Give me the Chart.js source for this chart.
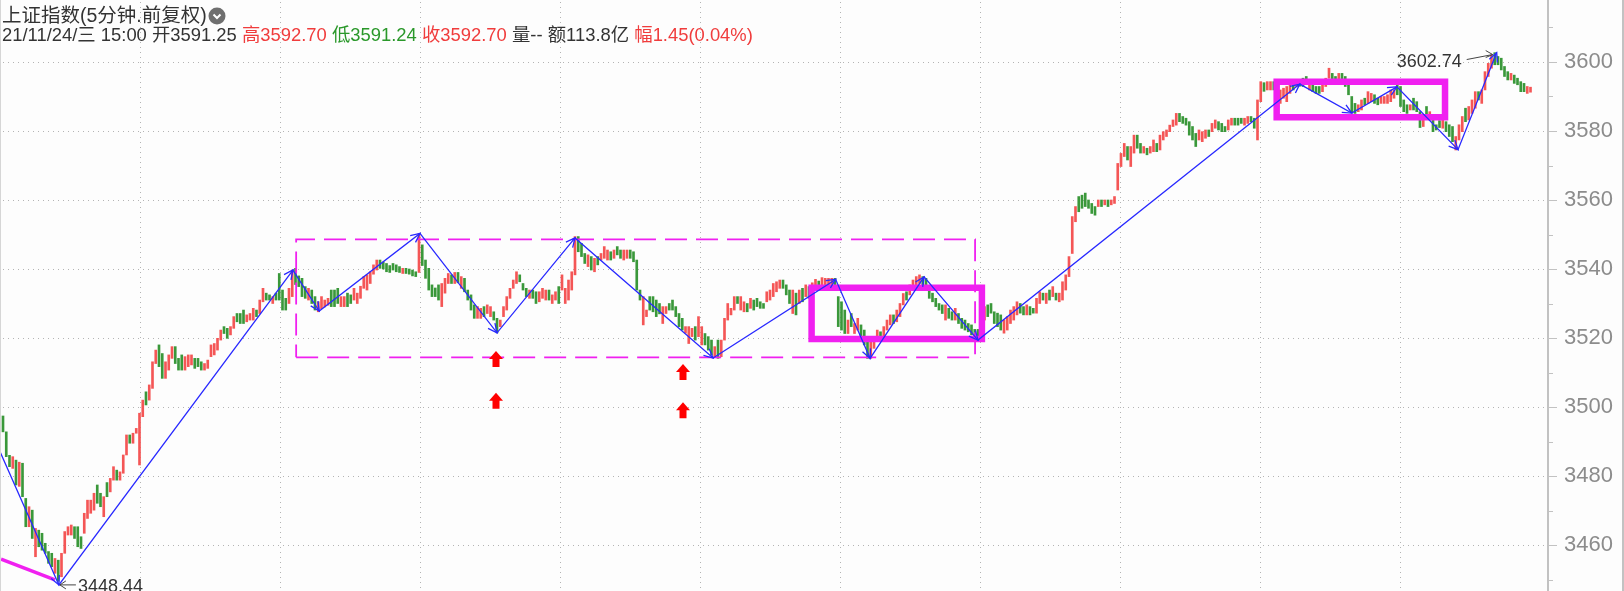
<!DOCTYPE html>
<html>
<head>
<meta charset="utf-8">
<script src="https://cdn.jsdelivr.net/npm/chart.js@4.4.0/dist/chart.umd.min.js"></script>
<style>
  html, body { margin: 0; padding: 0; background: #fdfdfd; }
  #wrap { position: relative; width: 1624px; height: 591px; overflow: hidden; }
  #kChart { position: absolute; left: 0; top: 0; }
  #head { position: absolute; left: 2px; top: 6px; z-index: 2; color: #333;
          font-family: "Liberation Sans", "Noto Sans CJK SC", sans-serif; white-space: nowrap; }
  #head .l1 { font-size: 19.5px; line-height: 19px; }
  #head .l2 { font-size: 18.4px; line-height: 19px; }
  #head svg { vertical-align: -3px; margin-left: 1px; }
  .up { color: #f03c3c; }
  .dn { color: #2a982a; }
</style>
</head>
<body>
<div id="wrap">
  <canvas id="kChart" width="1624" height="591"></canvas>
  <div id="head">
    <div class="l1">上证指数(5分钟.前复权)<svg width="18" height="18" viewBox="0 0 18 18"><circle cx="9" cy="9" r="8.5" fill="#6f6f6f"/><path d="M5.5 7.5 L9 11 L12.5 7.5" stroke="#fff" stroke-width="2" fill="none"/></svg></div>
    <div class="l2">21/11/24/三 15:00 开3591.25 <span class="up">高3592.70</span> <span class="dn">低3591.24</span> <span class="up">收3592.70</span> 量-- 额113.8亿 <span class="up">幅1.45(0.04%)</span></div>
  </div>
</div>
<script>
// 5 minute bars, one row = 10 bars
const opens = [
  3497.4, 3492.8, 3486.0, 3482.2, 3484.6, 3477.0, 3483.7, 3473.5, 3465.3, 3470.1,
  3456.6, 3464.3, 3463.4, 3460.5, 3458.1, 3457.6, 3451.8, 3455.6, 3450.8, 3457.6,
  3462.9, 3462.9, 3465.3, 3465.3, 3462.4, 3463.4, 3467.7, 3469.2, 3470.1, 3477.4,
  3475.0, 3468.2, 3478.1, 3475.4, 3478.8, 3481.7, 3478.8, 3480.8, 3486.1, 3491.9,
  3489.5, 3492.4, 3483.2, 3497.2, 3504.4, 3502.0, 3505.4, 3512.6, 3518.0, 3515.5,
  3508.3, 3510.7, 3514.1, 3517.5, 3514.1, 3515.1, 3510.7, 3511.7, 3512.2, 3514.1,
  3514.1, 3513.1, 3510.7, 3511.2, 3514.6, 3515.1, 3516.5, 3519.4, 3523.3, 3522.8,
  3520.9, 3522.8, 3527.1, 3527.1, 3528.1, 3524.7, 3525.2, 3525.2, 3528.1, 3527.1,
  3530.5, 3533.0, 3532.5, 3530.0, 3533.0, 3538.7, 3533.9, 3531.5, 3530.0, 3532.0,
  3540.2, 3538.0, 3537.3, 3534.9, 3531.0, 3533.9, 3532.0, 3527.6, 3528.5, 3529.0,
  3529.5, 3533.9, 3533.9, 3534.4, 3529.1, 3529.1, 3533.0, 3532.5, 3531.0, 3530.0,
  3531.5, 3534.4, 3533.9, 3535.8, 3538.5, 3539.7, 3542.6, 3542.0, 3541.6, 3541.0,
  3541.6, 3541.2, 3540.7, 3538.7, 3540.2, 3540.0, 3539.7, 3539.2, 3539.0, 3547.0,
  3542.6, 3540.2, 3535.4, 3534.5, 3535.4, 3529.1, 3533.0, 3535.8, 3538.3, 3535.8,
  3539.0, 3534.4, 3537.3, 3533.9, 3532.5, 3529.6, 3525.7, 3525.7, 3529.1, 3527.1,
  3526.2, 3527.6, 3525.7, 3523.3, 3526.2, 3528.1, 3531.5, 3534.4, 3535.8, 3538.3,
  3535.8, 3534.4, 3531.5, 3533.9, 3533.4, 3530.5, 3531.5, 3531.0, 3533.9, 3530.0,
  3531.0, 3534.9, 3533.9, 3530.0, 3531.0, 3533.9, 3538.3, 3549.4, 3547.4, 3544.5,
  3540.7, 3543.6, 3539.2, 3543.6, 3542.6, 3543.1, 3542.6, 3545.0, 3543.1, 3546.5,
  3545.5, 3542.6, 3543.1, 3545.5, 3545.0, 3542.6, 3533.9, 3523.8, 3526.2, 3532.0,
  3532.0, 3531.0, 3530.0, 3524.2, 3527.1, 3530.0, 3531.0, 3529.1, 3527.1, 3525.7,
  3521.4, 3518.4, 3520.4, 3523.3, 3520.4, 3518.0, 3521.3, 3520.4, 3519.4, 3514.6,
  3519.4, 3514.6, 3519.4, 3525.2, 3526.7, 3528.1, 3532.0, 3528.1, 3527.6, 3530.0,
  3528.6, 3531.0, 3531.5, 3530.5, 3530.0, 3530.5, 3531.0, 3532.0, 3533.4, 3534.4,
  3536.8, 3535.4, 3533.9, 3527.1, 3533.0, 3530.0, 3534.4, 3532.0, 3534.9, 3533.0,
  3534.0, 3536.5, 3534.0, 3535.0, 3534.9, 3535.4, 3537.3, 3532.0, 3530.5, 3528.1,
  3521.3, 3527.1, 3521.3, 3522.3, 3523.8, 3522.3, 3520.4, 3514.1, 3517.0, 3519.4,
  3521.8, 3520.4, 3522.3, 3523.8, 3526.7, 3524.7, 3526.2, 3529.6, 3533.4, 3532.5,
  3533.9, 3534.4, 3535.8, 3537.8, 3537.3, 3533.9, 3533.0, 3531.5, 3530.0, 3529.6,
  3525.2, 3528.6, 3527.6, 3525.2, 3527.1, 3525.7, 3525.2, 3524.2, 3523.8, 3522.5,
  3522.5, 3520.4, 3525.2, 3529.6, 3530.0, 3527.6, 3527.2, 3526.7, 3521.4, 3522.3,
  3524.2, 3525.2, 3526.7, 3530.0, 3529.1, 3526.7, 3529.1, 3528.6, 3527.2, 3530.0,
  3533.0, 3530.0, 3533.9, 3532.0, 3533.0, 3530.5, 3531.0, 3533.9, 3537.8, 3544.5,
  3553.7, 3561.0, 3561.4, 3562.0, 3560.0, 3559.0, 3558.1, 3558.1, 3560.0, 3558.6,
  3560.0, 3558.6, 3559.0, 3562.9, 3569.7, 3572.6, 3575.5, 3569.7, 3573.6, 3578.8,
  3576.4, 3573.6, 3575.0, 3573.6, 3574.0, 3576.4, 3574.5, 3577.4, 3578.4, 3579.8,
  3581.3, 3581.7, 3585.1, 3584.2, 3583.7, 3582.7, 3581.3, 3579.3, 3577.4, 3576.9,
  3577.9, 3580.3, 3579.8, 3580.8, 3582.7, 3582.2, 3581.3, 3580.3, 3581.7, 3583.7,
  3583.7, 3583.7, 3581.7, 3582.2, 3584.2, 3583.7, 3577.4, 3588.5, 3594.0, 3591.9,
  3591.9, 3594.3, 3592.0, 3588.0, 3589.5, 3588.5, 3590.9, 3593.8, 3592.9, 3594.5,
  3595.3, 3595.8, 3591.9, 3593.8, 3592.9, 3592.9, 3591.4, 3592.9, 3595.3, 3596.7,
  3595.8, 3594.3, 3596.7, 3595.8, 3593.8, 3590.0, 3588.0, 3585.6, 3586.1, 3589.5,
  3588.0, 3588.5, 3590.5, 3589.5, 3588.0, 3588.0, 3588.0, 3588.5, 3589.5, 3593.4,
  3592.9, 3589.0, 3587.6, 3586.1, 3589.5, 3588.5, 3585.6, 3581.3, 3587.1, 3583.2,
  3583.2, 3581.8, 3583.0, 3580.8, 3582.7, 3581.8, 3581.3, 3574.5, 3577.4, 3579.8,
  3586.6, 3583.2, 3585.1, 3586.6, 3591.4, 3588.0, 3591.9, 3595.8, 3598.2, 3602.7,
  3601.6, 3601.1, 3598.7, 3597.2, 3594.8, 3596.2, 3595.3, 3594.3, 3593.8, 3590.9, 3591.25
];
const closes = [
  3492.8, 3485.6, 3482.7, 3485.6, 3477.4, 3484.0, 3474.0, 3465.3, 3471.1, 3461.9,
  3464.8, 3459.5, 3458.5, 3457.6, 3454.7, 3453.7, 3456.1, 3449.5, 3457.6, 3463.9,
  3465.3, 3465.8, 3461.9, 3459.5, 3459.0, 3469.2, 3473.0, 3473.0, 3475.0, 3472.1,
  3471.1, 3474.0, 3474.0, 3479.3, 3482.7, 3478.8, 3481.2, 3486.1, 3491.9, 3489.5,
  3492.4, 3493.8, 3498.2, 3502.0, 3500.6, 3506.4, 3513.1, 3516.5, 3511.7, 3508.3,
  3513.1, 3515.1, 3517.5, 3512.6, 3510.7, 3510.7, 3514.6, 3515.1, 3515.1, 3511.2,
  3511.7, 3510.7, 3512.6, 3513.6, 3518.0, 3518.4, 3519.9, 3522.3, 3521.3, 3519.9,
  3523.3, 3526.2, 3524.7, 3524.2, 3524.2, 3526.7, 3527.1, 3528.6, 3526.2, 3531.0,
  3534.4, 3531.0, 3531.0, 3532.0, 3531.0, 3531.0, 3528.1, 3528.1, 3534.4, 3539.7,
  3535.5, 3534.9, 3532.0, 3531.5, 3534.4, 3530.0, 3528.1, 3530.5, 3532.0, 3531.0,
  3531.5, 3529.1, 3529.1, 3530.0, 3532.0, 3532.0, 3529.1, 3530.0, 3534.4, 3533.0,
  3535.0, 3537.8, 3538.3, 3539.2, 3541.2, 3542.6, 3540.2, 3540.0, 3539.2, 3539.0,
  3539.7, 3539.2, 3539.0, 3540.2, 3538.7, 3538.5, 3538.0, 3537.8, 3550.3, 3541.0,
  3537.3, 3533.9, 3532.0, 3532.0, 3531.0, 3535.8, 3537.3, 3538.7, 3535.8, 3539.0,
  3536.0, 3537.8, 3533.4, 3531.0, 3528.1, 3525.7, 3529.1, 3528.6, 3526.2, 3529.6,
  3529.1, 3525.2, 3521.5, 3525.2, 3529.1, 3532.0, 3534.4, 3536.8, 3539.2, 3536.3,
  3533.9, 3532.0, 3533.9, 3531.5, 3530.0, 3533.4, 3534.4, 3533.9, 3531.0, 3532.5,
  3533.4, 3530.0, 3538.3, 3534.4, 3536.8, 3539.2, 3549.4, 3545.0, 3543.6, 3541.6,
  3544.1, 3539.7, 3543.1, 3541.2, 3544.5, 3546.5, 3545.5, 3542.6, 3545.5, 3544.1,
  3543.1, 3545.5, 3545.5, 3543.1, 3542.1, 3533.9, 3531.0, 3532.0, 3528.1, 3528.1,
  3527.6, 3526.2, 3527.0, 3529.1, 3529.1, 3528.1, 3528.1, 3526.2, 3523.3, 3522.3,
  3523.3, 3523.3, 3522.8, 3519.4, 3526.2, 3523.3, 3518.0, 3516.5, 3515.1, 3517.5,
  3514.1, 3519.4, 3525.7, 3530.0, 3528.6, 3532.0, 3530.0, 3532.0, 3530.5, 3527.6,
  3531.5, 3528.1, 3529.1, 3528.6, 3528.6, 3533.4, 3533.9, 3535.8, 3536.3, 3536.8,
  3534.4, 3532.5, 3530.0, 3533.9, 3526.7, 3533.9, 3530.5, 3535.4, 3531.5, 3536.0,
  3537.0, 3534.5, 3537.5, 3537.3, 3537.3, 3537.3, 3535.4, 3523.3, 3522.3, 3521.3,
  3525.2, 3523.3, 3524.2, 3525.7, 3520.4, 3518.0, 3514.1, 3519.4, 3519.4, 3522.3,
  3519.9, 3523.3, 3525.2, 3526.7, 3524.2, 3528.1, 3530.0, 3532.9, 3531.0, 3535.4,
  3536.8, 3537.8, 3538.3, 3535.4, 3533.9, 3531.5, 3530.5, 3529.1, 3528.1, 3527.1,
  3529.6, 3525.7, 3525.2, 3528.6, 3524.2, 3522.8, 3522.3, 3521.8, 3520.9, 3520.5,
  3519.5, 3527.1, 3529.1, 3526.2, 3527.2, 3524.2, 3523.3, 3522.3, 3525.2, 3526.2,
  3528.1, 3529.1, 3530.5, 3527.2, 3526.7, 3529.6, 3526.7, 3527.2, 3531.5, 3533.4,
  3531.0, 3533.0, 3531.0, 3534.9, 3531.0, 3533.0, 3536.3, 3538.3, 3543.6, 3555.2,
  3558.1, 3556.6, 3557.6, 3558.1, 3557.6, 3556.1, 3555.6, 3560.0, 3558.1, 3560.0,
  3558.1, 3560.0, 3561.0, 3570.6, 3573.5, 3576.4, 3571.6, 3575.5, 3578.8, 3575.0,
  3573.6, 3575.5, 3573.1, 3575.5, 3577.4, 3574.0, 3578.8, 3579.8, 3580.3, 3581.7,
  3583.2, 3585.1, 3582.7, 3582.2, 3581.7, 3578.8, 3577.4, 3575.5, 3580.3, 3579.8,
  3580.3, 3578.4, 3582.2, 3583.2, 3580.3, 3579.8, 3579.8, 3583.2, 3583.7, 3581.7,
  3581.7, 3582.2, 3583.7, 3584.2, 3582.7, 3580.8, 3589.0, 3594.3, 3591.5, 3594.3,
  3594.3, 3591.9, 3594.0, 3591.9, 3592.4, 3592.9, 3593.8, 3591.9, 3594.3, 3593.0,
  3592.9, 3593.8, 3594.3, 3591.4, 3590.9, 3590.9, 3593.8, 3595.3, 3598.2, 3593.8,
  3593.8, 3596.7, 3594.8, 3592.9, 3590.5, 3585.6, 3585.1, 3587.6, 3589.0, 3587.6,
  3591.4, 3590.9, 3588.0, 3587.6, 3590.0, 3590.0, 3590.5, 3591.9, 3591.9, 3590.5,
  3587.1, 3585.6, 3585.1, 3587.6, 3586.1, 3585.6, 3581.0, 3583.7, 3584.2, 3585.6,
  3579.8, 3580.3, 3581.0, 3583.2, 3579.8, 3578.4, 3576.9, 3578.4, 3581.8, 3584.2,
  3582.7, 3587.1, 3589.0, 3591.4, 3589.0, 3591.9, 3597.2, 3599.6, 3602.0, 3599.2,
  3599.2, 3597.7, 3595.8, 3594.8, 3596.7, 3593.8, 3593.4, 3591.4, 3591.4, 3592.9, 3592.70
];

// zigzag turning points (bar index, price)
const zigIdx   = [-0.9, 17.2, 89.2, 97.3, 128.3, 152, 176, 218.5, 256.2, 266.8, 283.4, 300, 399, 415, 428.9, 447.7, 459.6];
const zigPrice = [3487.0, 3448.44, 3539.7, 3527.8, 3550.3, 3521.5, 3549.0, 3514.2, 3537.0, 3514.1, 3537.7, 3519.4, 3593.6, 3585.2, 3592.8, 3574.6, 3602.74];

// drawn boxes: [fromBar, toBar, low, high]
const rangeBox = [90.2, 299.1, 3514.4, 3548.6];
const boxA = [248.8, 301.2, 3519.7, 3534.6];
const boxB = [391.9, 443.7, 3584.0, 3594.3];
const stubIdx = [-0.6, 16];
const stubPrice = [3455.9, 3449.9];

// red up-arrow marks (tip position)
const arrowIdx = [151.8, 151.8, 209.2, 209.2];
const arrowPrice = [3516.2, 3504.1, 3512.5, 3501.4];

// right price axis
const priceTicks = [3450, 3460, 3470, 3480, 3490, 3500, 3510, 3520, 3530, 3540, 3550, 3560, 3570, 3580, 3590, 3600, 3610];
// dotted time separators (bar index)
const timeGrid = [42.2, 85.2, 128.3, 171.4, 214.5, 257.5, 300.6, 343.7, 386.8, 429.8];

const UP = '#f45656';
const DOWN = '#3a983a';
const MAGENTA = '#f020f0';
const BLUE = '#2828ff';

const candles = opens.map((o, i) => ({ x: i, y: [o, closes[i]] }));
const candleColors = opens.map((o, i) => (closes[i] >= o ? UP : DOWN));
const boxPath = (b) => [
  { x: b[0], y: b[2] }, { x: b[1], y: b[2] }, { x: b[1], y: b[3] },
  { x: b[0], y: b[3] }, { x: b[0], y: b[2] }
];

// bar 0 sits 3px from the left edge, 3.25px between bars, plot is 1547px wide
const xMin = -3 / 3.25;
const xMax = 1544 / 3.25;

const gridPlugin = {
  id: 'dotGrid',
  beforeDatasetsDraw(chart) {
    const { ctx, chartArea: a, scales: { x, y } } = chart;
    ctx.save();
    ctx.fillStyle = '#b4b4b4';
    priceTicks.forEach((v) => {
      if (v % 20 !== 0) return;
      const py = Math.round(y.getPixelForValue(v));
      for (let px = a.left + 3; px < a.right - 2; px += 5) ctx.fillRect(px, py, 1, 1);
    });
    timeGrid.forEach((v) => {
      const px = Math.round(x.getPixelForValue(v));
      for (let py = a.top + 2; py < a.bottom; py += 5) ctx.fillRect(px, py, 1, 1);
    });
    ctx.restore();
  },
  afterDraw(chart) {
    const { ctx, chartArea: a, scales: { y } } = chart;
    ctx.save();
    ctx.fillStyle = '#c2c2c2';
    ctx.fillRect(a.right, 0, 2, chart.height);
    ctx.fillRect(chart.width - 2, 0, 2, chart.height);
    priceTicks.forEach((v) => {
      const py = Math.round(y.getPixelForValue(v));
      ctx.fillRect(a.right + 2, py, v % 20 === 0 ? 8 : 4, 1);
    });
    ctx.fillStyle = '#d6d6d6';
    ctx.fillRect(0, 0, 1, chart.height);
    ctx.restore();
  }
};

const markPlugin = {
  id: 'marks',
  afterDatasetsDraw(chart) {
    const { ctx, scales: { x, y } } = chart;
    ctx.save();
    // arrowheads on the zigzag
    const pts = chart.getDatasetMeta(4).data;
    ctx.strokeStyle = BLUE;
    ctx.lineWidth = 1.3;
    for (let j = 1; j < pts.length; j++) {
      const t = pts[j], f = pts[j - 1];
      const ang = Math.atan2(t.y - f.y, t.x - f.x);
      ctx.beginPath();
      ctx.moveTo(t.x - 10 * Math.cos(ang - 0.45), t.y - 10 * Math.sin(ang - 0.45));
      ctx.lineTo(t.x, t.y);
      ctx.lineTo(t.x - 10 * Math.cos(ang + 0.45), t.y - 10 * Math.sin(ang + 0.45));
      ctx.stroke();
    }
    // red block arrows
    ctx.fillStyle = '#ff0000';
    arrowIdx.forEach((v, i) => {
      const px = Math.round(x.getPixelForValue(v)), py = y.getPixelForValue(arrowPrice[i]);
      ctx.beginPath();
      ctx.moveTo(px, py);
      ctx.lineTo(px + 7, py + 8);
      ctx.lineTo(px + 3.5, py + 8);
      ctx.lineTo(px + 3.5, py + 16);
      ctx.lineTo(px - 3.5, py + 16);
      ctx.lineTo(px - 3.5, py + 8);
      ctx.lineTo(px - 7, py + 8);
      ctx.closePath();
      ctx.fill();
    });
    // high / low labels
    const hi = zigPrice.indexOf(Math.max(...zigPrice));
    const lo = zigPrice.indexOf(Math.min(...zigPrice));
    ctx.fillStyle = '#333';
    ctx.strokeStyle = '#444';
    ctx.lineWidth = 1;
    ctx.font = '18px "Liberation Sans", Arial, sans-serif';
    const ph = pts[hi];
    ctx.textAlign = 'right';
    ctx.textBaseline = 'alphabetic';
    ctx.fillText(zigPrice[hi].toFixed(2), ph.x - 35, ph.y + 14);
    ctx.beginPath();
    ctx.moveTo(ph.x - 30, ph.y + 7);
    ctx.lineTo(ph.x - 4, ph.y + 2);
    ctx.moveTo(ph.x - 11, ph.y - 2);
    ctx.lineTo(ph.x - 4, ph.y + 2);
    ctx.lineTo(ph.x - 11, ph.y + 5);
    ctx.stroke();
    const pl = pts[lo];
    ctx.textAlign = 'left';
    ctx.fillText(zigPrice[lo].toFixed(2), pl.x + 19, pl.y + 7);
    ctx.beginPath();
    ctx.moveTo(pl.x + 17, pl.y);
    ctx.lineTo(pl.x + 1, pl.y);
    ctx.moveTo(pl.x + 7, pl.y - 4);
    ctx.lineTo(pl.x + 1, pl.y);
    ctx.lineTo(pl.x + 7, pl.y + 4);
    ctx.stroke();
    ctx.restore();
  }
};

const lineStyle = { type: 'line', pointRadius: 0, tension: 0, fill: false, borderJoinStyle: 'miter' };

new Chart(document.getElementById('kChart').getContext('2d'), {
  type: 'bar',
  data: {
    datasets: [
      {
        label: 'K',
        data: candles,
        backgroundColor: candleColors,
        borderWidth: 0,
        barThickness: 2,
        minBarLength: 2,
        order: 9
      },
      Object.assign({}, lineStyle, {
        data: boxPath(rangeBox),
        borderColor: MAGENTA,
        borderWidth: 1.8,
        borderDash: [22, 9],
        order: 4
      }),
      Object.assign({}, lineStyle, {
        data: boxPath(boxA),
        borderColor: MAGENTA,
        borderWidth: 6.5,
        borderCapStyle: 'square',
        order: 3
      }),
      Object.assign({}, lineStyle, {
        data: boxPath(boxB),
        borderColor: MAGENTA,
        borderWidth: 6.5,
        borderCapStyle: 'square',
        order: 2
      }),
      Object.assign({}, lineStyle, {
        data: zigIdx.map((v, i) => ({ x: v, y: zigPrice[i] })),
        borderColor: BLUE,
        borderWidth: 1.3,
        order: 0
      }),
      Object.assign({}, lineStyle, {
        data: stubIdx.map((v, i) => ({ x: v, y: stubPrice[i] })),
        borderColor: MAGENTA,
        borderWidth: 3.5,
        order: 1
      })
    ]
  },
  options: {
    responsive: false,
    animation: false,
    events: [],
    layout: { padding: 0, autoPadding: false },
    plugins: { legend: { display: false }, tooltip: { enabled: false } },
    scales: {
      x: {
        type: 'linear',
        display: false,
        offset: false,
        min: xMin,
        max: xMax
      },
      y: {
        position: 'right',
        min: 3446.67,
        max: 3617.97,
        afterBuildTicks: (s) => { s.ticks = priceTicks.map((v) => ({ value: v })); },
        afterFit: (s) => { s.width = 77; s.paddingTop = 0; s.paddingBottom = 0; },
        grid: { display: false },
        border: { display: false },
        ticks: {
          autoSkip: false,
          padding: 9,
          color: '#8c8c8c',
          font: { family: '"Liberation Sans", Arial, sans-serif', size: 22 },
          callback: (v) => (v % 20 === 0 ? String(v) : '')
        }
      }
    }
  },
  plugins: [gridPlugin, markPlugin]
});
</script>
</body>
</html>
